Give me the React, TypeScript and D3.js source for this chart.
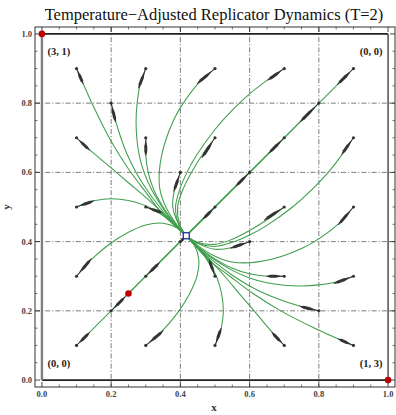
import React from 'react';
import * as d3 from 'd3';

const W = 396;
const H = 415;

const titleText = 'Temperature\u2212Adjusted Replicator Dynamics (T=2)';
const xLabel = 'x';
const yLabel = 'y';
const majorTicks = [0, 0.2, 0.4, 0.6, 0.8, 1.0];
const majorTickLabels = ['0.0', '0.2', '0.4', '0.6', '0.8', '1.0'];
const gridValues = [0.2, 0.4, 0.6, 0.8];

// payoff pairs at the four corners (x, y)
const cornerX = [0, 1, 0, 1];
const cornerY = [1, 1, 0, 0];
const cornerPayoffs = ['(3, 1)', '(0, 0)', '(0, 0)', '(1, 3)'];

// Nash equilibria (red) and temperature-adjusted equilibrium (blue square)
const nashPoints: [number, number][] = [[0, 1], [1, 0], [0.25, 0.25]];
const tempEquilibrium: [number, number] = [0.417, 0.417];

// trajectories: start point first
const trajectories: [number, number][][] = [
  // above the diagonal
  [[0.1, 0.9], [0.15, 0.788], [0.2, 0.69], [0.25, 0.61], [0.3, 0.543], [0.35, 0.478], [0.417, 0.417]],
  [[0.1, 0.7], [0.15, 0.655], [0.2, 0.613], [0.25, 0.57], [0.3, 0.528], [0.35, 0.482], [0.417, 0.417]],
  [[0.1, 0.5], [0.125, 0.511], [0.15, 0.518], [0.2, 0.524], [0.25, 0.519], [0.3, 0.504], [0.35, 0.477], [0.417, 0.417]],
  [[0.1, 0.3], [0.125, 0.33], [0.15, 0.355], [0.2, 0.396], [0.25, 0.427], [0.3, 0.448], [0.35, 0.453], [0.39, 0.44], [0.417, 0.417]],
  [[0.3, 0.9], [0.283, 0.85], [0.275, 0.8], [0.272, 0.75], [0.274, 0.7], [0.281, 0.65], [0.295, 0.6], [0.317, 0.55], [0.347, 0.5], [0.38, 0.455], [0.417, 0.417]],
  [[0.3, 0.7], [0.3, 0.65], [0.307, 0.6], [0.323, 0.55], [0.35, 0.5], [0.382, 0.455], [0.417, 0.417]],
  [[0.3, 0.5], [0.325, 0.49], [0.35, 0.475], [0.375, 0.457], [0.4, 0.432], [0.417, 0.417]],
  [[0.5, 0.9], [0.45, 0.855], [0.4, 0.787], [0.38, 0.75], [0.36, 0.7], [0.346, 0.65], [0.339, 0.6], [0.341, 0.55], [0.358, 0.5], [0.385, 0.455], [0.417, 0.417]],
  [[0.5, 0.7], [0.463, 0.65], [0.432, 0.6], [0.407, 0.55], [0.392, 0.5], [0.398, 0.45], [0.417, 0.417]],
  [[0.7, 0.9], [0.65, 0.866], [0.6, 0.827], [0.55, 0.78], [0.5, 0.724], [0.447, 0.65], [0.419, 0.6], [0.398, 0.55], [0.386, 0.5], [0.395, 0.45], [0.417, 0.417]],
  [[0.2, 0.8], [0.2125, 0.75], [0.228, 0.7], [0.247, 0.65], [0.272, 0.6], [0.303, 0.55], [0.34, 0.5], [0.378, 0.455], [0.417, 0.417]],
  [[0.4, 0.6], [0.383, 0.55], [0.378, 0.5], [0.395, 0.45], [0.417, 0.417]],
  // below the diagonal
  [[0.9, 0.1], [0.788, 0.15], [0.69, 0.2], [0.61, 0.25], [0.543, 0.3], [0.478, 0.35], [0.417, 0.417]],
  [[0.7, 0.1], [0.655, 0.15], [0.613, 0.2], [0.57, 0.25], [0.528, 0.3], [0.482, 0.35], [0.417, 0.417]],
  [[0.5, 0.1], [0.511, 0.125], [0.518, 0.15], [0.524, 0.2], [0.519, 0.25], [0.504, 0.3], [0.477, 0.35], [0.417, 0.417]],
  [[0.3, 0.1], [0.33, 0.125], [0.355, 0.15], [0.396, 0.2], [0.427, 0.25], [0.448, 0.3], [0.453, 0.35], [0.44, 0.39], [0.417, 0.417]],
  [[0.9, 0.3], [0.85, 0.283], [0.8, 0.275], [0.75, 0.272], [0.7, 0.274], [0.65, 0.281], [0.6, 0.295], [0.55, 0.317], [0.5, 0.347], [0.455, 0.38], [0.417, 0.417]],
  [[0.7, 0.3], [0.65, 0.3], [0.6, 0.307], [0.55, 0.323], [0.5, 0.35], [0.455, 0.382], [0.417, 0.417]],
  [[0.5, 0.3], [0.49, 0.325], [0.475, 0.35], [0.457, 0.375], [0.432, 0.4], [0.417, 0.417]],
  [[0.9, 0.5], [0.855, 0.45], [0.787, 0.4], [0.75, 0.38], [0.7, 0.36], [0.65, 0.346], [0.6, 0.339], [0.55, 0.341], [0.5, 0.358], [0.455, 0.385], [0.417, 0.417]],
  [[0.7, 0.5], [0.65, 0.463], [0.6, 0.432], [0.55, 0.407], [0.5, 0.392], [0.45, 0.398], [0.417, 0.417]],
  [[0.9, 0.7], [0.866, 0.65], [0.827, 0.6], [0.78, 0.55], [0.724, 0.5], [0.65, 0.447], [0.6, 0.419], [0.55, 0.398], [0.5, 0.386], [0.45, 0.395], [0.417, 0.417]],
  [[0.8, 0.2], [0.75, 0.2125], [0.7, 0.228], [0.65, 0.247], [0.6, 0.272], [0.55, 0.303], [0.5, 0.34], [0.455, 0.378], [0.417, 0.417]],
  [[0.6, 0.4], [0.55, 0.383], [0.5, 0.378], [0.45, 0.395], [0.417, 0.417]],
  // on the diagonal
  [[0.1, 0.1], [0.417, 0.417]],
  [[0.2, 0.2], [0.417, 0.417]],
  [[0.3, 0.3], [0.417, 0.417]],
  [[0.4, 0.4], [0.417, 0.417]],
  [[0.5, 0.5], [0.417, 0.417]],
  [[0.6, 0.6], [0.417, 0.417]],
  [[0.7, 0.7], [0.417, 0.417]],
  [[0.8, 0.8], [0.417, 0.417]],
  [[0.9, 0.9], [0.417, 0.417]],
];

// tip of the direction arrow drawn at each start point (same order)
const arrowTips: [number, number][] = [
  [0.119, 0.856], [0.138, 0.664], [0.15, 0.518], [0.143, 0.351], [0.279, 0.843], [0.3, 0.649],
  [0.348, 0.483], [0.448, 0.856], [0.462, 0.642], [0.652, 0.866], [0.213, 0.745], [0.381, 0.545],
  [0.856, 0.119], [0.664, 0.138], [0.518, 0.15], [0.351, 0.143], [0.843, 0.279], [0.649, 0.3],
  [0.483, 0.348], [0.856, 0.448], [0.642, 0.462], [0.866, 0.652], [0.745, 0.213], [0.545, 0.381],
  [0.138, 0.138], [0.24, 0.24], [0.34, 0.34], [0.41, 0.41], [0.465, 0.465], [0.56, 0.56],
  [0.655, 0.655], [0.745, 0.745], [0.853, 0.853],
];

const SERIF = '"Liberation Serif", "Times New Roman", "DejaVu Serif", serif';

export default function App() {
  const left = 35, right = 395, top = 27, bottom = 387;
  const x = d3.scaleLinear().domain([-0.02, 1.02]).range([left, right]);
  const y = d3.scaleLinear().domain([-0.02, 1.02]).range([bottom, top]);
  const line = d3
    .line<[number, number]>()
    .x((d) => x(d[0]))
    .y((d) => y(d[1]))
    .curve(d3.curveCatmullRom.alpha(0.5));

  const minorTicks = d3.range(1, 20).map((i) => i * 0.05).filter((v) => Math.abs(v * 5 - Math.round(v * 5)) > 1e-6);

  const arrowPath = (s: [number, number], e: [number, number]) => {
    const sx = x(s[0]), sy = y(s[1]), ex = x(e[0]), ey = y(e[1]);
    const dx = ex - sx, dy = ey - sy;
    const L = Math.hypot(dx, dy) || 1;
    const ux = dx / L, uy = dy / L;
    const nx = -uy, ny = ux;
    const p = (t: number, w: number) => [sx + ux * L * t + nx * w, sy + uy * L * t + ny * w];
    const pts = [p(0.22, 0.4), p(0.48, 1.5), p(0.8, 1.45), [ex, ey], p(0.8, -1.45), p(0.48, -1.5), p(0.22, -0.4)];
    return 'M' + pts.map((q) => q[0].toFixed(2) + ',' + q[1].toFixed(2)).join('L') + 'Z';
  };

  const gridDash = '5,2,1.2,2';

  return (
    <svg width={W} height={H} style={{ position: 'fixed', left: 0, top: 0, background: '#fff' }}>
      <rect x={0} y={0} width={W} height={H} fill="#fff" />
      {/* title */}
      <text
        x={(left + right) / 2 - 1}
        y={20}
        textAnchor="middle"
        fontFamily={SERIF}
        fontSize={16.5}
        fill="#111"
      >
        {titleText}
      </text>

      {/* grid */}
      {gridValues.map((v) => (
        <g key={'g' + v}>
          <line x1={x(v)} x2={x(v)} y1={top} y2={bottom} stroke="#6e6e6e" strokeWidth={0.9} strokeDasharray={gridDash} />
          <line x1={left} x2={right} y1={y(v)} y2={y(v)} stroke="#6e6e6e" strokeWidth={0.9} strokeDasharray={gridDash} />
        </g>
      ))}

      {/* boundary of the unit square */}
      <line x1={x(0)} x2={x(1)} y1={y(1)} y2={y(1)} stroke="#222" strokeWidth={1.6} />
      <line x1={x(0)} x2={x(1)} y1={y(0)} y2={y(0)} stroke="#222" strokeWidth={1.6} />
      <line x1={x(1)} x2={x(1)} y1={y(0)} y2={y(1)} stroke="#333" strokeWidth={1.3} />
      <line x1={x(0)} x2={x(0)} y1={y(0)} y2={y(1)} stroke="#808080" strokeWidth={2.4} />

      {/* trajectories */}
      {trajectories.map((t, i) => (
        <path key={'t' + i} d={line(t) || ''} fill="none" stroke="#3f9e4c" strokeWidth={1.05} />
      ))}

      {/* arrows */}
      {trajectories.map((t, i) => (
        <g key={'a' + i}>
          <line x1={x(t[0][0])} y1={y(t[0][1])} x2={x(arrowTips[i][0])} y2={y(arrowTips[i][1])} stroke="#333" strokeWidth={1} />
          <path d={arrowPath(t[0], arrowTips[i])} fill="#333" />
          <circle cx={x(t[0][0])} cy={y(t[0][1])} r={1.6} fill="#333" />
        </g>
      ))}

      {/* equilibria */}
      {nashPoints.map((p, i) => (
        <circle key={'n' + i} cx={x(p[0])} cy={y(p[1])} r={3.3} fill="#c00000" />
      ))}
      <rect
        x={x(tempEquilibrium[0]) - 3}
        y={y(tempEquilibrium[1]) - 3}
        width={6}
        height={6}
        fill="#fff"
        stroke="#2a3c9e"
        strokeWidth={1.4}
      />

      {/* corner payoff labels */}
      {cornerPayoffs.map((lab, i) => (
        <text
          key={'c' + i}
          x={x(cornerX[i]) + (cornerX[i] === 0 ? 17 : -17)}
          y={y(cornerY[i]) + (cornerY[i] === 1 ? 21 : -13)}
          textAnchor="middle"
          fontFamily={SERIF}
          fontSize={10.5}
          fontWeight="bold"
          fill="#222"
        >
          {lab}
        </text>
      ))}

      {/* frame */}
      <rect x={left} y={top} width={right - left} height={bottom - top} fill="none" stroke="#333" strokeWidth={1} />
      {majorTicks.map((v) => (
        <g key={'mt' + v} stroke="#333" strokeWidth={0.9}>
          <line x1={x(v)} x2={x(v)} y1={bottom} y2={bottom - 5} />
          <line x1={x(v)} x2={x(v)} y1={top} y2={top + 5} />
          <line x1={left} x2={left + 5} y1={y(v)} y2={y(v)} />
          <line x1={right} x2={right - 5} y1={y(v)} y2={y(v)} />
        </g>
      ))}
      {minorTicks.map((v) => (
        <g key={'mn' + v} stroke="#333" strokeWidth={0.7}>
          <line x1={x(v)} x2={x(v)} y1={bottom} y2={bottom - 2.5} />
          <line x1={x(v)} x2={x(v)} y1={top} y2={top + 2.5} />
          <line x1={left} x2={left + 2.5} y1={y(v)} y2={y(v)} />
          <line x1={right} x2={right - 2.5} y1={y(v)} y2={y(v)} />
        </g>
      ))}
      {majorTicks.map((v, i) => (
        <text key={'xl' + v} x={x(v)} y={bottom + 10} textAnchor="middle" fontFamily={SERIF} fontSize={8.5} fontWeight="bold" fill="#444">
          {majorTickLabels[i]}
        </text>
      ))}
      {majorTicks.map((v, i) => (
        <text key={'yl' + v} x={left - 3} y={y(v) + 3} textAnchor="end" fontFamily={SERIF} fontSize={8.5} fontWeight="bold" fill="#444">
          {majorTickLabels[i]}
        </text>
      ))}
      <text x={214} y={411} textAnchor="middle" fontFamily={SERIF} fontSize={11} fontWeight="bold" fill="#333">
        {xLabel}
      </text>
      <text x={10} y={207} textAnchor="middle" fontFamily={SERIF} fontSize={11} fontWeight="bold" fill="#333" transform="rotate(-90 10 207)">
        {yLabel}
      </text>
    </svg>
  );
}
